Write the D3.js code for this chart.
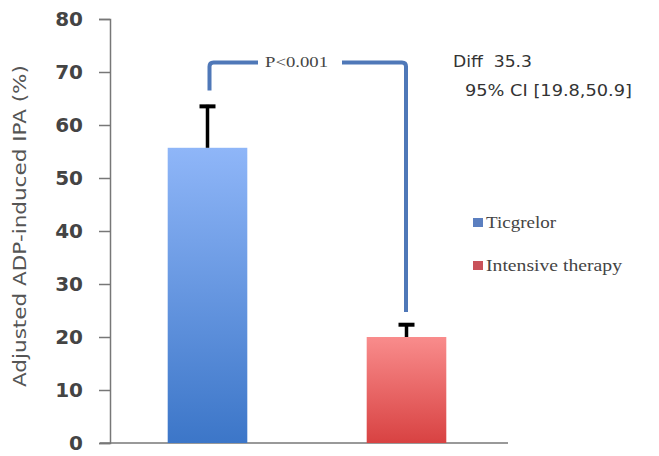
<!DOCTYPE html>
<html><head><meta charset="utf-8">
<script src="https://cdn.jsdelivr.net/npm/d3@7"></script>
<style>body{margin:0;background:#fff;}svg{display:block;}</style>
</head><body>
<svg id="c" width="659" height="456"></svg>
<script>
const categories = ["Ticgrelor", "Intensive therapy"];
const values = [55.7, 20.0];
const errUpper = [63.8, 22.6];
const yTicks = [0, 10, 20, 30, 40, 50, 60, 70, 80];
const yTitle = "Adjusted ADP-induced IPA (%)";
const pLabel = "P<0.001";
const diffLines = ["Diff  35.3", "95% CI [19.8,50.9]"];

const svg = d3.select("#c");
const defs = svg.append("defs");
const grads = [["gBlue", "#8fb6f8", "#3c76c8"], ["gRed", "#f98c8c", "#d84242"]];
grads.forEach(([id, a, b]) => {
  const g = defs.append("linearGradient").attr("id", id).attr("x1", 0).attr("y1", 0).attr("x2", 0).attr("y2", 1);
  g.append("stop").attr("offset", "0%").attr("stop-color", a);
  g.append("stop").attr("offset", "100%").attr("stop-color", b);
});
const fills = ["url(#gBlue)", "url(#gRed)"];
const legendColors = ["#5b7fc0", "#c9525a"];

const y = d3.scaleLinear().domain([0, 80]).range([443, 19]);
const x = d3.scaleBand().domain(categories).range([108, 506]).paddingInner(0.6).paddingOuter(0.3);

// y axis
const yAxis = d3.axisLeft(y).tickValues(yTicks).tickSize(11).tickPadding(16);
const ga = svg.append("g").attr("transform", "translate(110,0)").call(yAxis);
ga.select(".domain").attr("stroke", "#777").attr("stroke-width", 1.5);
ga.selectAll(".tick line").attr("stroke", "#777").attr("stroke-width", 1.5);
ga.selectAll(".tick text").attr("fill", "#444").attr("font-family", "DejaVu Sans").attr("font-size", 20)
  .attr("font-weight", 600);

// x axis line
const gx = svg.append("g").attr("transform", "translate(0,443)").call(d3.axisBottom(x).tickSize(0).tickFormat(""));
gx.select(".domain").attr("d", "M100,0H508").attr("stroke", "#777").attr("stroke-width", 1.5);

// y title
svg.append("text").attr("transform", "translate(26,226) rotate(-90)").attr("text-anchor", "middle")
  .attr("font-family", "DejaVu Sans").attr("font-size", 17).attr("fill", "#555")
  .attr("textLength", 322).attr("lengthAdjust", "spacingAndGlyphs").text(yTitle);

// bars
svg.selectAll("rect.bar").data(categories).join("rect").attr("class", "bar")
  .attr("x", d => x(d)).attr("width", x.bandwidth())
  .attr("y", (d, i) => y(values[i])).attr("height", (d, i) => y(0) - y(values[i]))
  .attr("fill", (d, i) => fills[i]);

// error bars
categories.forEach((c, i) => {
  const cx = x(c) + x.bandwidth() / 2;
  svg.append("line").attr("x1", cx).attr("x2", cx).attr("y1", y(values[i])).attr("y2", y(errUpper[i]))
    .attr("stroke", "#000").attr("stroke-width", 3.5);
  svg.append("line").attr("x1", cx - 8).attr("x2", cx + 8).attr("y1", y(errUpper[i]) + 1.5).attr("y2", y(errUpper[i]) + 1.5)
    .attr("stroke", "#000").attr("stroke-width", 4);
});

// significance bracket
const bx1 = x(categories[0]) + x.bandwidth() / 2 + 2;
const bx2 = x(categories[1]) + x.bandwidth() / 2 - 0.5;
const by = y(71.8);
const r = 4;
const bc = "#4f78b8";
svg.append("path").attr("d", `M${bx1},${y(66.5)}V${by + r}Q${bx1},${by} ${bx1 + r},${by}H258`)
  .attr("fill", "none").attr("stroke", bc).attr("stroke-width", 4);
svg.append("path").attr("d", `M342,${by}H${bx2 - r}Q${bx2},${by} ${bx2},${by + r}V${y(24.7)}`)
  .attr("fill", "none").attr("stroke", bc).attr("stroke-width", 4);
svg.append("text").attr("x", 265).attr("y", by + 5).attr("textLength", 63).attr("lengthAdjust", "spacingAndGlyphs")
  .attr("font-family", "Liberation Serif").attr("font-size", 15).attr("fill", "#444").text(pLabel);

// diff text
svg.append("text").attr("x", 453).attr("y", 67).attr("font-family", "DejaVu Sans").attr("font-size", 16).attr("fill", "#333")
  .style("white-space", "pre").attr("textLength", 79).attr("lengthAdjust", "spacingAndGlyphs").text(diffLines[0]);
svg.append("text").attr("x", 465).attr("y", 96).attr("font-family", "DejaVu Sans").attr("font-size", 16).attr("fill", "#333")
  .attr("textLength", 167).attr("lengthAdjust", "spacingAndGlyphs").text(diffLines[1]);

// legend
const legendW = [70, 136];
const lg = svg.append("g");
categories.forEach((c, i) => {
  const ly = 228 + i * 43;
  lg.append("rect").attr("x", 473).attr("y", ly - 10).attr("width", 10).attr("height", 9).attr("fill", legendColors[i]);
  lg.append("text").attr("x", 486).attr("y", ly).attr("font-family", "Liberation Serif").attr("font-size", 17).attr("fill", "#444")
    .attr("textLength", legendW[i]).attr("lengthAdjust", "spacingAndGlyphs").text(c);
});
</script>
</body></html>
